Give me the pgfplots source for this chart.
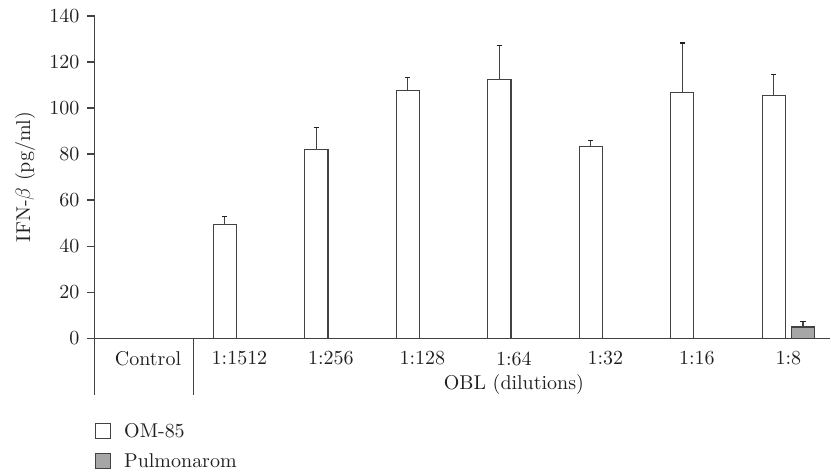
\documentclass[border=0pt]{standalone}
\usepackage{fontspec}
\setmainfont{lmroman10-regular.otf}[ItalicFont=lmroman10-italic.otf, BoldFont=lmroman10-bold.otf]
\usepackage{pgfplots}
\pgfplotsset{compat=1.18}

\definecolor{ink}{RGB}{35,31,32}
\definecolor{pulm}{RGB}{166,166,166}

\begin{document}
\begin{tikzpicture}[font=\fontsize{20}{23}\selectfont, text=ink]
 % invisible frame so the page keeps the reference's margins
 \path (-95pt,-131.7pt) rectangle (736pt,338.3pt);
 \begin{axis}[
   scale only axis,
   width=736pt, height=322.3pt,
   xmin=-0.58, xmax=7.46,
   ymin=0, ymax=140,
   axis lines=left,
   axis line style={-, draw=ink!85, line width=1.1pt},
   ytick={0,20,...,140},
   tick align=outside,
   major tick length=8pt,
   ytick style={draw=ink!85, line width=1.1pt},
   yticklabel style={xshift=-4pt},
   xtick={0,1,2,3,4,5,6,7},
   xticklabels={Control,1:1512,1:256,1:128,1:64,1:32,1:16,1:8},
   xtick style={draw=none},
   xticklabel style={yshift=-2pt},
   /pgf/number format/assume math mode=true,
   ylabel={IFN-$\beta$ (pg/ml)},
   ylabel style={at={(axis description cs:-0.095,0.5)}, anchor=center},
   clip=false,
   ybar,
   bar width=0.255,
   legend style={at={(0,-0.258)}, anchor=north west, draw=none, fill=none,
     inner sep=0pt, row sep=11pt, font=\fontsize{20}{23}\selectfont,
     /tikz/every odd column/.style={column sep=11pt}},
   legend cell align=left,
   legend image code/.code={\draw[#1] (0pt,-7pt) rectangle (15pt,8pt);},
   error bars/y dir=plus,
   error bars/y explicit,
   error bars/error bar style={draw=ink!85, line width=1.2pt},
   error bars/error mark options={rotate=90, mark size=2.6pt, line width=1.2pt},
 ]
   \addplot[bar shift=-0.16, draw=ink!85, fill=white, line width=1.1pt]
     coordinates {
     (1,49.2) +- (0,3.6)
     (2,82.0) +- (0,9.7)
     (3,107.5) +- (0,5.8)
     (4,112.5) +- (0,14.5)
     (5,83.2) +- (0,2.6)
     (6,106.9) +- (0,21.4)
     (7,105.3) +- (0,9.4)
   };
   \addlegendentry{OM-85}
   \addplot[bar shift=0.16, draw=ink!85, fill=pulm, line width=1.1pt]
     coordinates {
     (7,4.8) +- (0,2.4)
   };
   \addlegendentry{Pulmonarom}
   % group divider and extension of the y axis below the category row
   \draw[ink!85, line width=1.1pt] (axis cs:-0.58,0) -- (axis cs:-0.58,-24.6);
   \draw[ink!85, line width=1.1pt] (axis cs:0.5,0) -- (axis cs:0.5,-24.6);
   \node[anchor=center] at (axis cs:4,-20.3) {OBL (dilutions)};
 \end{axis}
\end{tikzpicture}
\end{document}
